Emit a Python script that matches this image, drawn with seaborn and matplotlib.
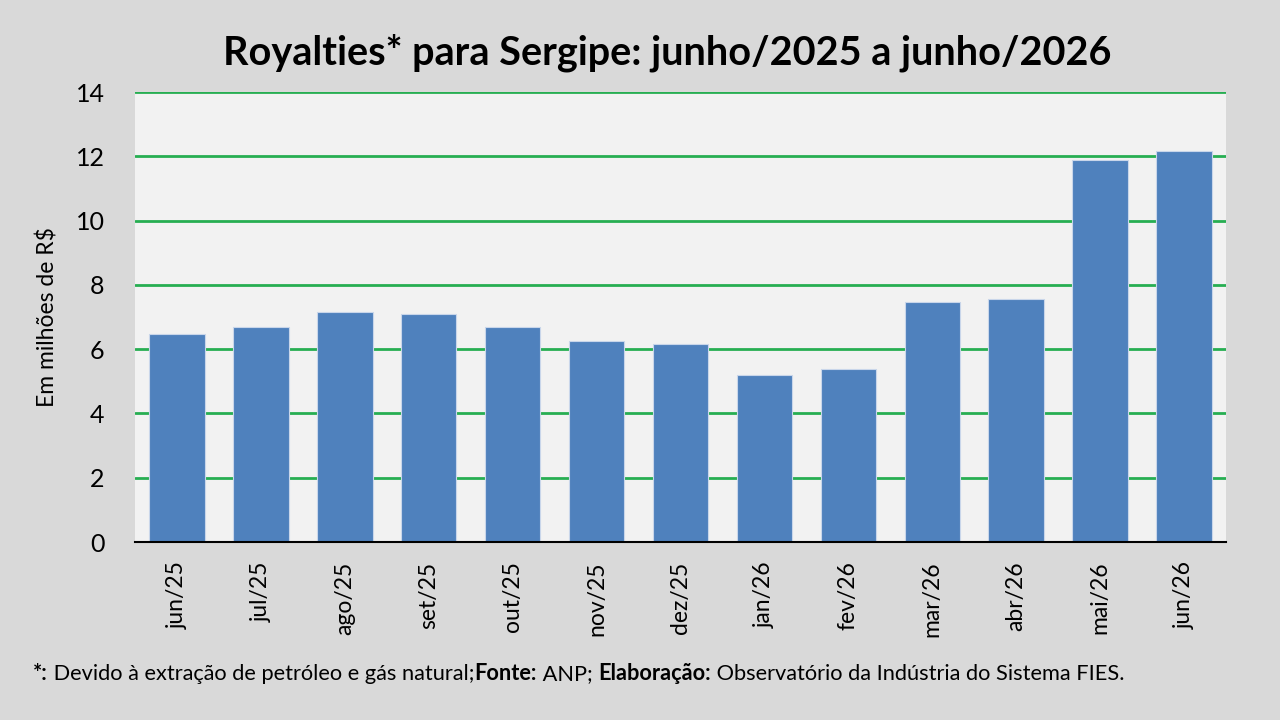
import matplotlib
matplotlib.use("Agg")
import matplotlib.pyplot as plt
import seaborn as sns
import pandas as pd
import numpy as np

meses = ["jun/25", "jul/25", "ago/25", "set/25", "out/25", "nov/25", "dez/25",
         "jan/26", "fev/26", "mar/26", "abr/26", "mai/26", "jun/26"]
royalties = [6.47, 6.70, 7.15, 7.08, 6.70, 6.25, 6.16, 5.19, 5.37, 7.46, 7.56, 11.88, 12.18]
y_ticks = [0, 2, 4, 6, 8, 10, 12, 14]

footer_parts = [("*:", "bold"), (" Devido à extração de petróleo e gás natural;", "normal"),
                ("Fonte:", "bold"), (" ANP; ", "normal"), ("Elaboração:", "bold"),
                (" Observatório da Indústria do Sistema FIES.", "normal")]

sns.set_style("white")
plt.rcParams["font.family"] = ["Lato", "DejaVu Sans"]

df = pd.DataFrame({"mes": meses, "valor": royalties})

fig = plt.figure(figsize=(12.8, 7.2), dpi=100, facecolor="#D9D9D9")
ax = fig.add_axes([0.1055, 0.2472, 0.8523, 0.625])
ax.set_facecolor("#F2F2F2")

sns.barplot(data=df, x="mes", y="valor", color="#4F81BD", saturation=1,
            width=0.66, edgecolor="#C9D6EA", linewidth=0.8, ax=ax)

ax.set_xlim(-0.5, len(meses) - 0.5)
ax.set_ylim(0, 14)
ax.set_yticks(y_ticks)
ax.set_axisbelow(True)
ax.yaxis.grid(True, color="#27AE52", linewidth=2)

for s in ["top", "right", "left"]:
    ax.spines[s].set_visible(False)
ax.spines["bottom"].set_color("black")
ax.spines["bottom"].set_linewidth(1.5)

# ticks at the category boundaries, like Excel
ax.set_xticks(np.arange(-0.5, len(meses)), minor=True)
ax.tick_params(axis="x", which="minor", length=12, width=1.5, direction="inout", color="black")
ax.tick_params(axis="x", which="major", length=0, pad=14, labelsize=16.5, rotation=90,
               labelcolor="black")
ax.tick_params(axis="y", length=0, pad=22, labelsize=18, labelcolor="black")

ax.set_xlabel("")
ax.set_ylabel("Em milhões de R$", fontsize=16.5, labelpad=12, color="black")

fig.text(0.521, 0.927, "Royalties* para Sergipe: junho/2025 a junho/2026",
         ha="center", va="center", fontsize=28.5, fontweight="bold", color="black")

# footer with mixed bold / normal pieces
renderer = fig.canvas.get_renderer()
x = 33
for txt, w in footer_parts:
    t = fig.text(x / 1280, 1 - 674 / 720, txt, ha="left", va="center",
                 fontsize=15.7, fontweight=w, color="black")
    bb = t.get_window_extent(renderer=renderer)
    x += bb.width

fig.savefig("out.png", dpi=100, facecolor=fig.get_facecolor())
